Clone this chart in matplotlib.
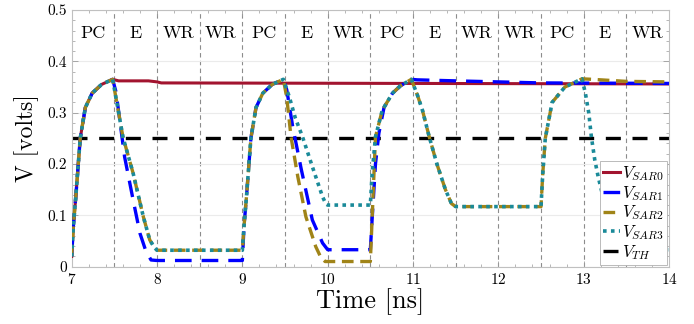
import matplotlib
matplotlib.use('Agg')
import matplotlib.pyplot as plt
import numpy as np

plt.rcParams['font.family'] = 'serif'
plt.rcParams['font.serif'] = ['cmr10']
plt.rcParams['mathtext.fontset'] = 'cm'
plt.rcParams['axes.formatter.use_mathtext'] = True

# phase labels, one per 0.5 ns slot from 7 to 14 ns
phases = ['PC', 'E', 'WR', 'WR', 'PC', 'E', 'WR', 'PC', 'E', 'WR', 'WR', 'PC', 'E', 'WR']
phase_start = 7.0
phase_len = 0.5

# V_SAR0
t0 = [7.0, 7.02, 7.05, 7.10, 7.16, 7.24, 7.35, 7.48, 7.55, 7.9, 8.0, 8.05, 14.0]
v0 = [0.02, 0.08, 0.14, 0.25, 0.31, 0.338, 0.355, 0.365, 0.362, 0.362, 0.360, 0.358, 0.356]

# V_SAR1
t1 = [7.0, 7.02, 7.05, 7.10, 7.16, 7.24, 7.35, 7.48,
      7.52, 7.56, 7.62, 7.72, 7.80, 7.87, 7.93, 8.0, 9.0,
      9.02, 9.05, 9.10, 9.16, 9.24, 9.35, 9.48,
      9.52, 9.59, 9.69, 9.82, 9.94, 10.0, 10.5,
      10.52, 10.56, 10.60, 10.66, 10.76, 10.85, 10.98,
      11.05, 11.5, 12.0, 12.5, 14.0]
v1 = [0.02, 0.08, 0.14, 0.25, 0.31, 0.338, 0.355, 0.365,
      0.34, 0.29, 0.214, 0.13, 0.065, 0.03, 0.013, 0.012, 0.012,
      0.08, 0.14, 0.25, 0.31, 0.338, 0.355, 0.365,
      0.345, 0.273, 0.19, 0.091, 0.046, 0.033, 0.033,
      0.09, 0.2, 0.26, 0.31, 0.338, 0.352, 0.365,
      0.364, 0.362, 0.360, 0.358, 0.357]

# V_SAR2
t2 = [7.0, 7.02, 7.05, 7.10, 7.16, 7.24, 7.35, 7.48,
      7.55, 7.60, 7.72, 7.84, 7.915, 7.97, 8.0, 9.0,
      9.02, 9.05, 9.10, 9.16, 9.24, 9.35, 9.48,
      9.52, 9.57, 9.65, 9.745, 9.86, 9.92, 9.97, 10.5,
      10.52, 10.56, 10.64, 10.76, 10.85, 10.98,
      11.05, 11.11, 11.19, 11.28, 11.38, 11.45, 11.5, 12.5,
      12.52, 12.55, 12.63, 12.78, 12.98,
      13.1, 13.5, 14.0]
v2 = [0.02, 0.08, 0.14, 0.25, 0.31, 0.338, 0.355, 0.365,
      0.30, 0.253, 0.182, 0.097, 0.052, 0.037, 0.032, 0.032,
      0.08, 0.14, 0.25, 0.31, 0.338, 0.355, 0.365,
      0.33, 0.253, 0.175, 0.097, 0.039, 0.018, 0.01, 0.01,
      0.09, 0.253, 0.305, 0.338, 0.352, 0.365,
      0.335, 0.305, 0.253, 0.2, 0.15, 0.123, 0.117, 0.117,
      0.18, 0.25, 0.32, 0.35, 0.366,
      0.365, 0.361, 0.360]

# V_SAR3
t3 = [7.0, 7.02, 7.05, 7.10, 7.16, 7.24, 7.35, 7.48,
      7.55, 7.60, 7.72, 7.84, 7.915, 7.97, 8.0, 9.0,
      9.02, 9.05, 9.10, 9.16, 9.24, 9.35, 9.48,
      9.55, 9.62, 9.705, 9.82, 9.94, 9.98, 10.0, 10.5,
      10.52, 10.56, 10.64, 10.76, 10.85, 10.98,
      11.05, 11.11, 11.19, 11.28, 11.38, 11.45, 11.5, 12.5,
      12.52, 12.55, 12.63, 12.78, 12.98,
      13.02, 13.06, 13.09, 13.13, 13.17, 13.25, 13.33, 13.42, 13.5, 14.0]
v3 = [0.02, 0.08, 0.14, 0.25, 0.31, 0.338, 0.355, 0.365,
      0.30, 0.253, 0.182, 0.097, 0.052, 0.037, 0.032, 0.032,
      0.08, 0.14, 0.25, 0.31, 0.338, 0.355, 0.365,
      0.331, 0.29, 0.253, 0.195, 0.136, 0.122, 0.12, 0.12,
      0.18, 0.253, 0.305, 0.338, 0.352, 0.365,
      0.335, 0.305, 0.253, 0.2, 0.15, 0.123, 0.117, 0.117,
      0.18, 0.25, 0.32, 0.35, 0.366,
      0.338, 0.299, 0.253, 0.208, 0.175, 0.12, 0.07, 0.04, 0.033, 0.033]

v_th = 0.25

fig = plt.figure(figsize=(6.94, 3.24), dpi=100)
ax = fig.add_axes([0.1033, 0.177, 0.8607, 0.792])

ax.grid(True, which='major', axis='y', color='#ebebeb', lw=0.8, zorder=0)
for k in range(1, len(phases)):
    ax.axvline(phase_start + k * phase_len, color='#8c8c8c', lw=0.8, ls=(0, (4, 3)), zorder=1)
for k, p in enumerate(phases):
    ax.text(phase_start + (k + 0.5) * phase_len, 0.455, p, ha='center', va='center', fontsize=13)

ax.plot(t0, v0, color='#a2142f', lw=2.2, label=r'$V_{SAR0}$', zorder=3)
ax.plot(t1, v1, color='#0000ff', lw=2.4, ls=(0, (5, 3)), label=r'$V_{SAR1}$', zorder=3)
ax.plot(t2, v2, color='#a08418', lw=2.4, ls=(0, (3.5, 2)), label=r'$V_{SAR2}$', zorder=3)
ax.plot(t3, v3, color='#1a8a99', lw=2.6, ls=(0, (1, 1.2)), label=r'$V_{SAR3}$', zorder=3)
ax.plot([7, 14], [v_th, v_th], color='black', lw=2.4, ls=(0, (4.5, 3.5)), label=r'$V_{TH}$', zorder=2)

ax.set_xlim(7, 14)
ax.set_ylim(0, 0.5)
ax.set_xticks(np.arange(7, 15, 1))
ax.set_xticks(np.arange(7, 14.01, 0.2), minor=True)
ax.set_yticks([0, 0.1, 0.2, 0.3, 0.4, 0.5])
ax.set_yticklabels(['0', '0.1', '0.2', '0.3', '0.4', '0.5'])
ax.set_yticks(np.arange(0, 0.501, 0.02), minor=True)
ax.tick_params(which='both', direction='in', top=True, right=True, color='#9a9a9a', labelsize=11)
ax.tick_params(which='major', length=4, width=0.6)
ax.tick_params(which='minor', length=2, width=0.5)
for s in ax.spines.values():
    s.set_color('#c0c0c0')

ax.set_xlabel('Time [ns]', fontsize=19, labelpad=1)
ax.set_ylabel('V [volts]', fontsize=17, labelpad=6)

leg = ax.legend(loc='lower right', fontsize=12, handlelength=1.0, handletextpad=0.15,
                labelspacing=0.05, borderpad=0.2, borderaxespad=0.1, fancybox=False,
                framealpha=1, edgecolor='#b0b0b0')
leg.get_frame().set_linewidth(0.6)

fig.savefig('out.png', dpi=100)
